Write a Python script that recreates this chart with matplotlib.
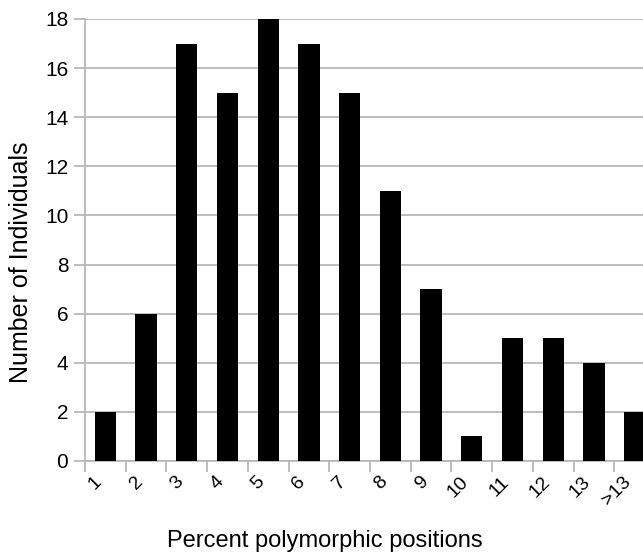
import matplotlib
matplotlib.use("Agg")
import matplotlib.pyplot as plt
import numpy as np

categories = ['1', '2', '3', '4', '5', '6', '7', '8', '9', '10', '11', '12', '13', '>13']
counts = [2, 6, 17, 15, 18, 17, 15, 11, 7, 1, 5, 5, 4, 2]
y_ticks = [0, 2, 4, 6, 8, 10, 12, 14, 16, 18]

plt.rcParams['font.family'] = ['Liberation Sans', 'DejaVu Sans']

fig = plt.figure(figsize=(6.43, 5.56), dpi=100)
fig.patch.set_facecolor('white')

# axes run past the right edge of the figure, like the original crop
ax = fig.add_axes([85 / 643, 95 / 556, 570 / 643, 442 / 556])

x = np.arange(len(categories))
ax.bar(x, counts, width=0.52, color='black', zorder=3)

ax.set_xlim(-0.5, len(categories) - 0.5)
ax.set_ylim(0, 18)
ax.set_yticks(y_ticks)
ax.yaxis.grid(True, color='#b3b3b3', linewidth=1.2, zorder=0)

grey = '#b3b3b3'
for side in ['top', 'right']:
    ax.spines[side].set_visible(False)
for side in ['left', 'bottom']:
    ax.spines[side].set_color(grey)
    ax.spines[side].set_linewidth(1.2)

# category boundaries get the tick marks, centres get the labels
ax.set_xticks(np.arange(-0.5, len(categories), 1.0), minor=True)
ax.set_xticks(x)
ax.set_xticklabels(categories, rotation=45, ha='right', va='top', fontsize=14)
ax.tick_params(axis='x', which='major', length=0, pad=9)
ax.tick_params(axis='x', which='minor', length=8, color=grey, width=1.2)
ax.tick_params(axis='y', length=8, color=grey, width=1.2, labelsize=15, pad=4)

fig.text(0.505, 1 - 541 / 556, 'Percent polymorphic positions', fontsize=17,
         ha='center', va='center')
fig.text(0.033, 1 - 262 / 556, 'Number of Individuals', fontsize=18,
         rotation=90, ha='center', va='center')

fig.savefig('out.png', dpi=100, facecolor=fig.get_facecolor())
